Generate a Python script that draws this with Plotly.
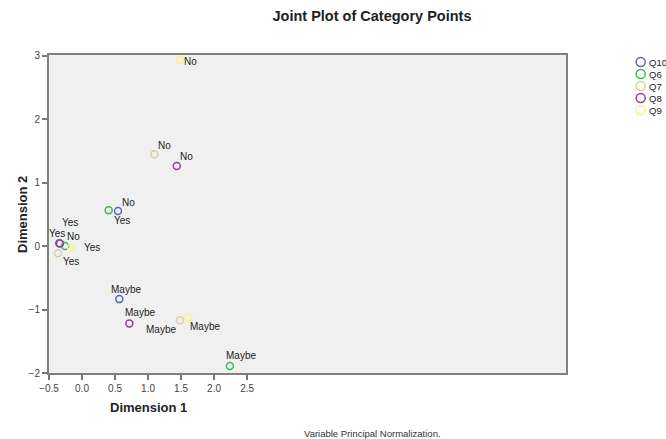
import plotly.graph_objects as go

# ---- data ----
questions = ["Q10", "Q6", "Q7", "Q8", "Q9"]
colors = ["#5468c4", "#3cbc52", "#d6d2a6", "#9a3c9a", "#f8f47e"]

q_labels = {
    "Q10": ["Yes", "No", "Maybe"],
    "Q6": ["Yes", "No", "Maybe"],
    "Q7": ["Yes", "No", "Maybe"],
    "Q8": ["Yes", "No", "Maybe"],
    "Q9": ["Yes", "No", "Maybe"],
}
dim1 = {
    "Q10": [-0.345, 0.545, 0.565],
    "Q6": [0.404, -0.258, 2.24],
    "Q7": [-0.364, 1.096, 1.485],
    "Q8": [-0.333, 1.435, 0.717],
    "Q9": [-0.167, 1.49, 1.61],
}
dim2 = {
    "Q10": [0.045, 0.552, -0.836],
    "Q6": [0.563, 0.0, -1.89],
    "Q7": [-0.115, 1.446, -1.167],
    "Q8": [0.04, 1.262, -1.22],
    "Q9": [-0.025, 2.93, -1.125],
}
x_ticks = [-0.5, 0.0, 0.5, 1.0, 1.5, 2.0, 2.5]
y_ticks = [-2, -1, 0, 1, 2, 3]

# label offsets in pixels (dx right, dy down) -- style only
label_offsets = {
    "Q10": [(11, -21), (10, -9), (7, -10)],
    "Q6": [(13, 10), (9, -10), (11, -11)],
    "Q7": [(13, 8), (10, -9), (-19, 9)],
    "Q8": [(-3, -10), (10, -9), (11, -11)],
    "Q9": [(21, 0), (10, 1), (17, 9)],
}

FONT = "Liberation Sans, Arial, sans-serif"
W, H = 666, 439
L, R, T, B = 49, 0, 55, 66
plot_w = W - L - R
main_right_px = 566
legend_left_px = 630

fig = go.Figure()
annotations = []

for q, c in zip(questions, colors):
    fig.add_trace(go.Scatter(
        x=dim1[q], y=dim2[q], mode="markers", name=q,
        marker=dict(symbol="circle-open", size=7, color=c, line=dict(width=1.5, color=c)),
        showlegend=False, xaxis="x", yaxis="y", cliponaxis=False,
    ))
    for xv, yv, lab, (dx, dy) in zip(dim1[q], dim2[q], q_labels[q], label_offsets[q]):
        annotations.append(dict(
            x=xv, y=yv, xref="x", yref="y", text=lab, showarrow=False,
            xshift=dx, yshift=-dy, xanchor="center", yanchor="middle",
            font=dict(family=FONT, size=10, color="#222"),
        ))

# manual legend
leg_idx = list(range(len(questions)))
fig.add_trace(go.Scatter(
    x=[0] * len(questions), y=leg_idx, mode="markers",
    marker=dict(symbol="circle-open", size=9, color=colors,
                line=dict(width=1.5, color=colors)),
    showlegend=False, xaxis="x2", yaxis="y2", cliponaxis=False, hoverinfo="skip",
))
for i, q in zip(leg_idx, questions):
    annotations.append(dict(
        x=0, y=i, xref="x2", yref="y2", text=q, showarrow=False,
        xanchor="left", yanchor="middle", xshift=6,
        font=dict(family=FONT, size=9.5, color="#222"),
    ))

# axis titles and footnote
annotations.append(dict(
    x=(148 - L) / plot_w, y=(373 - 407.5) / (H - T - B), xref="paper", yref="paper",
    text="<b>Dimension 1</b>", showarrow=False, xanchor="center", yanchor="middle",
    font=dict(family=FONT, size=13, color="#222"),
))
annotations.append(dict(
    x=(22 - L) / plot_w, y=0.5, xref="paper", yref="paper",
    text="<b>Dimension 2</b>", showarrow=False, textangle=-90,
    xanchor="center", yanchor="middle",
    font=dict(family=FONT, size=13, color="#222"),
))
annotations.append(dict(
    x=(372 - L) / plot_w, y=(373 - 433) / (H - T - B), xref="paper", yref="paper",
    text="Variable Principal Normalization.", showarrow=False,
    xanchor="center", yanchor="middle",
    font=dict(family=FONT, size=9.5, color="#333"),
))

fig.update_layout(
    width=W, height=H,
    margin=dict(l=L, r=R, t=T, b=B, pad=0),
    paper_bgcolor="white", plot_bgcolor="white",
    title=dict(text="<b>Joint Plot of Category Points</b>", x=372 / W, xref="container",
               xanchor="center", y=1 - 16 / H, yref="container", yanchor="middle",
               font=dict(family=FONT, size=14.5, color="#222")),
    xaxis=dict(domain=[0, (main_right_px - L) / plot_w], range=[-0.5, 7.33],
               tickvals=x_ticks, tickformat=".1f", ticks="outside", ticklen=5,
               tickcolor="#777", tickwidth=1.5, showgrid=False, zeroline=False,
               showline=True, linecolor="#808080", linewidth=2, mirror=True,
               tickfont=dict(family=FONT, size=10, color="#444"), anchor="y"),
    yaxis=dict(domain=[0, 1], range=[-2, 3.01], tickvals=y_ticks, ticks="outside",
               ticklen=5, tickcolor="#777", tickwidth=1.5, showgrid=False,
               zeroline=False, showline=True, linecolor="#808080", linewidth=2,
               mirror=True, tickfont=dict(family=FONT, size=10, color="#444"),
               anchor="x"),
    xaxis2=dict(domain=[(legend_left_px - L) / plot_w, 1], range=[-10.7, 25.3],
                visible=False, anchor="y2", fixedrange=True),
    yaxis2=dict(domain=[(373 - 116) / (H - T - B), (373 - 56) / (H - T - B)],
                range=[4.5, -0.5], visible=False, anchor="x2", fixedrange=True),
    annotations=annotations,
    shapes=[dict(type="rect", xref="x domain", yref="y domain", x0=0, x1=1, y0=0, y1=1,
                 fillcolor="#f0f0f0", line=dict(width=0), layer="below")],
)

fig.write_html("out.html")
